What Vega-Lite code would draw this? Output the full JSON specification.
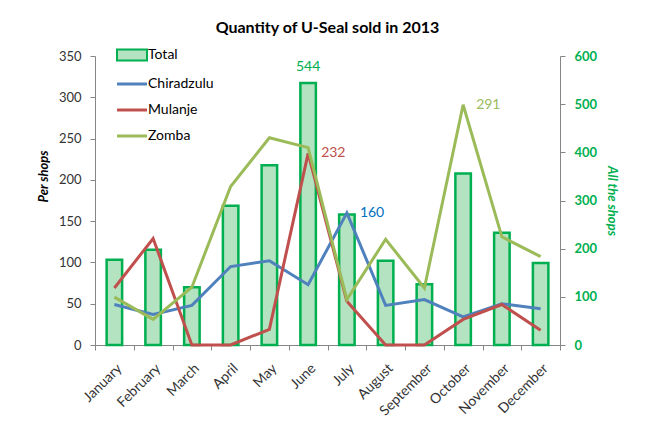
{
  "$schema": "https://vega.github.io/schema/vega-lite/v6.json",
  "width": 465,
  "height": 289,
  "autosize": {"type": "none"},
  "padding": {"left": 95, "top": 56, "right": 93, "bottom": 77},
  "background": "white",
  "title": {"text": "Quantity of U-Seal sold in 2013", "font": "Lato", "fontSize": 16, "fontWeight": "bold", "color": "#000000", "anchor": "middle", "frame": "group", "offset": 12},
  "config": {"font": "Lato", "view": {"stroke": null}},
  "data": {"values": [
    {"month": "January", "series": "Total", "value": 177},
    {"month": "February", "series": "Total", "value": 198},
    {"month": "March", "series": "Total", "value": 120},
    {"month": "April", "series": "Total", "value": 289},
    {"month": "May", "series": "Total", "value": 373},
    {"month": "June", "series": "Total", "value": 544, "label": "544"},
    {"month": "July", "series": "Total", "value": 271},
    {"month": "August", "series": "Total", "value": 175},
    {"month": "September", "series": "Total", "value": 126},
    {"month": "October", "series": "Total", "value": 356},
    {"month": "November", "series": "Total", "value": 233},
    {"month": "December", "series": "Total", "value": 170},
    {"month": "January", "series": "Chiradzulu", "value": 49},
    {"month": "February", "series": "Chiradzulu", "value": 37},
    {"month": "March", "series": "Chiradzulu", "value": 48},
    {"month": "April", "series": "Chiradzulu", "value": 95},
    {"month": "May", "series": "Chiradzulu", "value": 102},
    {"month": "June", "series": "Chiradzulu", "value": 73},
    {"month": "July", "series": "Chiradzulu", "value": 160, "label": "160"},
    {"month": "August", "series": "Chiradzulu", "value": 48},
    {"month": "September", "series": "Chiradzulu", "value": 55},
    {"month": "October", "series": "Chiradzulu", "value": 34},
    {"month": "November", "series": "Chiradzulu", "value": 50},
    {"month": "December", "series": "Chiradzulu", "value": 44},
    {"month": "January", "series": "Mulanje", "value": 69},
    {"month": "February", "series": "Mulanje", "value": 129},
    {"month": "March", "series": "Mulanje", "value": 0},
    {"month": "April", "series": "Mulanje", "value": 0},
    {"month": "May", "series": "Mulanje", "value": 19},
    {"month": "June", "series": "Mulanje", "value": 232, "label": "232"},
    {"month": "July", "series": "Mulanje", "value": 53},
    {"month": "August", "series": "Mulanje", "value": 0},
    {"month": "September", "series": "Mulanje", "value": 0},
    {"month": "October", "series": "Mulanje", "value": 31},
    {"month": "November", "series": "Mulanje", "value": 49},
    {"month": "December", "series": "Mulanje", "value": 18},
    {"month": "January", "series": "Zomba", "value": 58},
    {"month": "February", "series": "Zomba", "value": 31},
    {"month": "March", "series": "Zomba", "value": 70},
    {"month": "April", "series": "Zomba", "value": 192},
    {"month": "May", "series": "Zomba", "value": 251},
    {"month": "June", "series": "Zomba", "value": 239},
    {"month": "July", "series": "Zomba", "value": 55},
    {"month": "August", "series": "Zomba", "value": 128},
    {"month": "September", "series": "Zomba", "value": 69},
    {"month": "October", "series": "Zomba", "value": 291, "label": "291"},
    {"month": "November", "series": "Zomba", "value": 131},
    {"month": "December", "series": "Zomba", "value": 107}
  ]},
  "encoding": {
    "x": {"field": "month", "type": "ordinal", "sort": ["January","February","March","April","May","June","July","August","September","October","November","December"], "scale": {"paddingInner": 0, "paddingOuter": 0},
      "axis": {"title": null, "labelAngle": -45, "labelFontSize": 14, "labelColor": "#333333", "labelPadding": 11, "tickBand": "extent", "tickSize": 5, "tickColor": "#868686", "domainColor": "#868686"}}
  },
  "layer": [
    {
      "encoding": {
        "y": {"field": "value", "type": "quantitative", "scale": {"domain": [0, 600], "nice": false},
          "axis": {"orient": "right", "title": "All the shops", "titleColor": "#00B050", "titleFontSize": 13, "titleFontWeight": "bold", "titleFontStyle": "italic", "titlePadding": 8, "values": [0,100,200,300,400,500,600], "labelColor": "#00B050", "labelFontWeight": "bold", "labelFontSize": 13, "labelPadding": 9, "tickSize": 5, "tickColor": "#868686", "domainColor": "#868686", "grid": false}}
      },
      "layer": [
        {
          "transform": [{"filter": "datum.series === 'Total'"}],
          "mark": {"type": "bar", "width": {"band": 0.4}, "fill": "#b3e3c0", "stroke": "#00B050", "strokeWidth": 2.5}
        },
        {
          "transform": [{"filter": "datum.series === 'Total' && datum.label"}],
          "mark": {"type": "text", "dy": -16, "baseline": "middle", "fontSize": 14, "color": "#00B050"},
          "encoding": {"text": {"field": "label"}}
        }
      ]
    },
    {
      "encoding": {
        "y": {"field": "value", "type": "quantitative", "scale": {"domain": [0, 350], "nice": false},
          "axis": {"orient": "left", "title": "Per shops", "titleColor": "#000000", "titleFontSize": 13, "titleFontWeight": "bold", "titleFontStyle": "italic", "titlePadding": 8, "titleY": 120, "values": [0,50,100,150,200,250,300,350], "labelColor": "#333333", "labelFontSize": 13, "labelPadding": 9, "tickSize": 5, "tickColor": "#868686", "domainColor": "#868686", "grid": false}}
      },
      "layer": [
        {
          "transform": [{"filter": "datum.series !== 'Total'"}],
          "mark": {"type": "line", "strokeWidth": 3},
          "encoding": {
            "color": {"field": "series", "type": "nominal",
              "scale": {"domain": ["Total", "Chiradzulu", "Mulanje", "Zomba"], "range": ["#00B050", "#4F81BD", "#C0504D", "#9BBB59"]},
              "legend": {"orient": "none", "legendX": 30, "legendY": -8, "title": null, "padding": 0, "symbolType": "stroke", "symbolSize": 900, "symbolStrokeWidth": 3, "labelFontSize": 14, "labelColor": "#000000", "labelOffset": 9, "rowPadding": 12,
                "encode": {"symbols": {"update": {
                  "shape": {"signal": "datum.value === 'Total' ? 'M-1,-0.37H1V0.37H-1Z' : 'stroke'"},
                  "fill": {"signal": "datum.value === 'Total' ? '#b3e3c0' : 'transparent'"},
                  "strokeWidth": {"signal": "datum.value === 'Total' ? 2 : 3"}
                }}}}}
          }
        },
        {
          "transform": [{"filter": "datum.series !== 'Total' && datum.label"}],
          "mark": {"type": "text", "dx": 13, "align": "left", "baseline": "middle", "fontSize": 14},
          "encoding": {
            "text": {"field": "label"},
            "fill": {"field": "series", "type": "nominal", "scale": {"domain": ["Chiradzulu", "Mulanje", "Zomba"], "range": ["#0070C0", "#C0504D", "#9BBB59"]}, "legend": null}
          }
        }
      ]
    }
  ],
  "resolve": {"scale": {"y": "independent"}}
}
